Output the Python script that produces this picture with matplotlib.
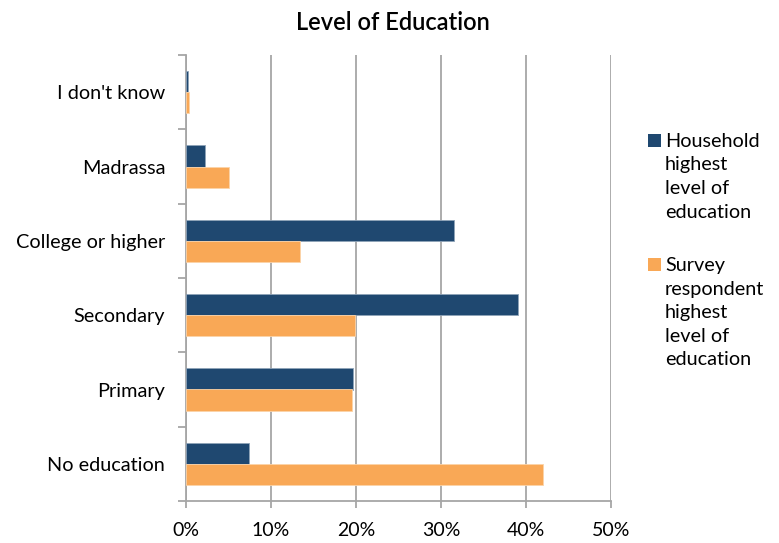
import matplotlib
matplotlib.use("Agg")
import matplotlib.pyplot as plt
import numpy as np
from matplotlib.ticker import PercentFormatter, FixedLocator
from matplotlib.patches import Rectangle

categories = ["No education", "Primary", "Secondary", "College or higher", "Madrassa", "I don't know"]
household = [7.4, 19.7, 39.0, 31.5, 2.2, 0.2]
respondent = [42.0, 19.5, 19.9, 13.4, 5.1, 0.4]
series_names = ["Household\nhighest\nlevel of\neducation", "Survey\nrespondent\nhighest\nlevel of\neducation"]
xticks = [0, 10, 20, 30, 40, 50]

plt.rcParams['font.family'] = ['Lato', 'DejaVu Sans']

W, H = 779, 543
fig = plt.figure(figsize=(W/100, H/100), dpi=100)
ax = fig.add_axes([186/W, 1-501/H, (611-186)/W, (501-55)/H])

y = np.arange(len(categories))
h = 0.285
c_house = "#1F4870"
c_resp = "#F9A856"
colors = [c_house, c_resp]
ax.barh(y + h/2, household, height=h, color=c_house, edgecolor="#8fa3b8", linewidth=0.6, zorder=3)
ax.barh(y - h/2, respondent, height=h, color=c_resp, edgecolor="#fcd3a8", linewidth=0.6, zorder=3)

ax.set_xlim(0, 50)
ax.set_ylim(-0.5, len(categories) - 0.5)
ax.set_xticks(xticks)
ax.xaxis.set_major_formatter(PercentFormatter(decimals=0))
ax.xaxis.grid(True, color="#a6a6a6", linewidth=1.3, zorder=0)
ax.set_axisbelow(True)

ax.set_yticks(y)
ax.set_yticklabels(categories)
ax.yaxis.set_minor_locator(FixedLocator(np.arange(-0.5, len(categories), 1)))
ax.tick_params(axis='y', which='major', length=0, pad=15, labelsize=14.3, colors="#000000")
ax.tick_params(axis='y', which='minor', length=6, width=1.3, color="#a6a6a6")
ax.tick_params(axis='x', which='major', length=5, width=1.3, color="#a6a6a6", pad=10, labelsize=14)

for s in ["top", "right"]:
    ax.spines[s].set_visible(False)
for s in ["left", "bottom"]:
    ax.spines[s].set_color("#a6a6a6")
    ax.spines[s].set_linewidth(1.3)

fig.text(393/W, 1-22/H, "Level of Education", ha="center", va="center", fontsize=17, fontweight="semibold")

# legend drawn manually (Excel-style wrapped entries)
legend_first_baseline = [147, 271]
line_step = 23.5
for name, col, base in zip(series_names, colors, legend_first_baseline):
    fig.patches.append(Rectangle((648/W, 1-(base)/H), 13/W, 13/H, transform=fig.transFigure,
                                 facecolor=col, edgecolor="none"))
    for i, line in enumerate(name.split("\n")):
        fig.text(665/W, 1-(base + i*line_step)/H, line, ha="left", va="baseline", fontsize=14.3)

fig.savefig("out.png", dpi=100)
